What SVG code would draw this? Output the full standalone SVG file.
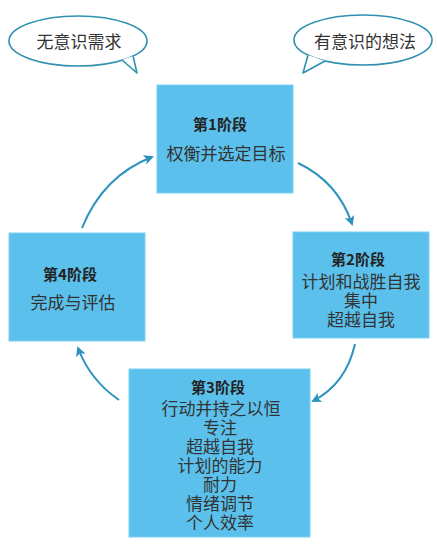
<svg xmlns="http://www.w3.org/2000/svg" width="437" height="546" viewBox="0 0 437 546">
<style>
.box{fill:#5bc1ec;stroke:#7dcff2;stroke-width:1}
.bubble{fill:#fff;stroke:#2f90b0;stroke-width:1.6;stroke-linejoin:round}
.t{font-family:"Noto Sans CJK SC","Liberation Sans",sans-serif;font-weight:bold;font-size:15px;fill:#222;text-anchor:middle;dominant-baseline:central}
.b{font-family:"Noto Sans CJK SC",sans-serif;font-size:17px;fill:#333;text-anchor:middle;dominant-baseline:central}
.q{font-family:"Noto Sans CJK SC",sans-serif;font-size:17px;fill:#333;text-anchor:middle;dominant-baseline:central}
.arr{fill:none;stroke:#2d93bd;stroke-width:2;marker-end:url(#ah)}
</style>
<defs>
<marker id="ah" viewBox="0 0 10 10" refX="8" refY="5" markerWidth="5" markerHeight="5" orient="auto" markerUnits="strokeWidth">
<path d="M0,0 L10,5 L0,10 L2.5,5 Z" fill="#2d93bd"/>
</marker>
</defs>
<rect width="437" height="546" fill="#fff"/>
<g id="bubble-left">
<ellipse class="bubble" cx="78" cy="41" rx="69" ry="25"/>
<path class="bubble" d="M122,60 L137,73 L133,56"/>
<text class="q" x="79" y="40">无意识需求</text>
</g>
<g id="bubble-right">
<ellipse class="bubble" cx="363" cy="40" rx="69" ry="25"/>
<path class="bubble" d="M308,55 L303,73 L325,61"/>
<text class="q" x="365" y="40">有意识的想法</text>
</g>
<g id="connectors">
<path class="arr" d="M298,163 Q338,182 352,224"/>
<path class="arr" d="M355,344 Q346,384 313,401"/>
<path class="arr" d="M119,400 Q90,380 78,348"/>
<path class="arr" d="M82,228 Q103,176 152,157"/>
</g>
<g id="stage1">
<rect class="box" x="157" y="85" width="136" height="108"/>
<text class="t" x="220" y="123">第1阶段</text>
<text class="b" x="226" y="152">权衡并选定目标</text>
</g>
<g id="stage2">
<rect class="box" x="293" y="232" width="136" height="106"/>
<text class="t" x="358" y="258">第2阶段</text>
<text class="b" x="361" y="280">计划和战胜自我</text>
<text class="b" x="361" y="299">集中</text>
<text class="b" x="361" y="318">超越自我</text>
</g>
<g id="stage3">
<rect class="box" x="129" y="369" width="181" height="168"/>
<text class="t" x="218" y="386">第3阶段</text>
<text class="b" x="221" y="407">行动并持之以恒</text>
<text class="b" x="220" y="426">专注</text>
<text class="b" x="220" y="445">超越自我</text>
<text class="b" x="220" y="464">计划的能力</text>
<text class="b" x="220" y="483">耐力</text>
<text class="b" x="220" y="502">情绪调节</text>
<text class="b" x="220" y="521">个人效率</text>
</g>
<g id="stage4">
<rect class="box" x="9" y="233" width="136" height="108"/>
<text class="t" x="70" y="273">第4阶段</text>
<text class="b" x="73" y="301">完成与评估</text>
</g>
</svg>
